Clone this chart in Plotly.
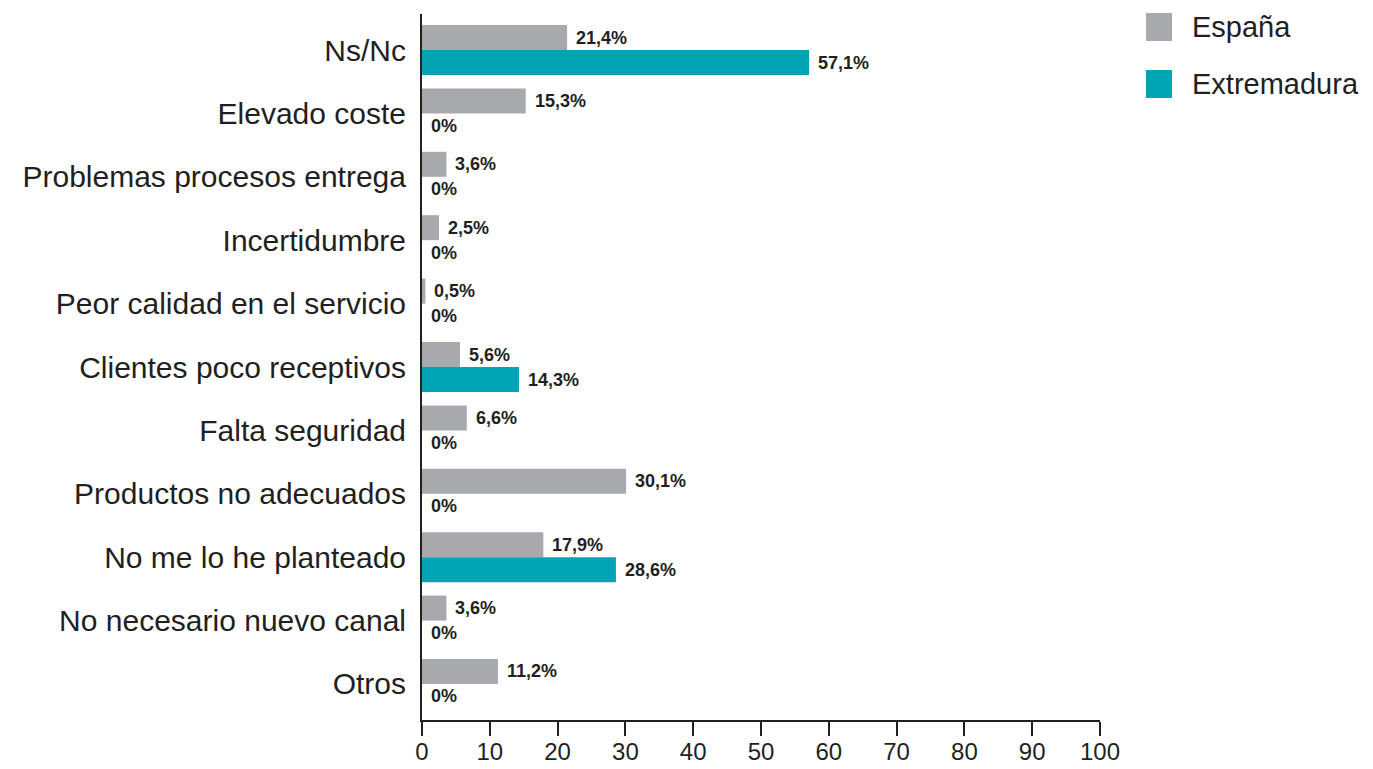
import plotly.graph_objects as go

# Motivos para no usar el canal / comparativa España vs Extremadura (%)
categorias = [
    "Ns/Nc",
    "Elevado coste",
    "Problemas procesos entrega",
    "Incertidumbre",
    "Peor calidad en el servicio",
    "Clientes poco receptivos",
    "Falta seguridad",
    "Productos no adecuados",
    "No me lo he planteado",
    "No necesario nuevo canal",
    "Otros",
]
espana = [21.4, 15.3, 3.6, 2.5, 0.5, 5.6, 6.6, 30.1, 17.9, 3.6, 11.2]
extremadura = [57.1, 0, 0, 0, 0, 14.3, 0, 0, 28.6, 0, 0]
series_nombres = ["España", "Extremadura"]
x_ticks = [0, 10, 20, 30, 40, 50, 60, 70, 80, 90, 100]

GRIS = "#a7a9ac"
TURQUESA = "#00a4b4"
TINTA = "#231f20"
FUENTE = "Liberation Sans"

W, H = 1373, 769
M_L, M_R, M_T, M_B = 422, 273, 14, 49


def etiqueta(v):
    if v == 0:
        return "0%"
    return f"{v:.1f}".replace(".", ",") + "%"


fig = go.Figure()
for nombre, valores, color in [
    (series_nombres[0], espana, GRIS),
    (series_nombres[1], extremadura, TURQUESA),
]:
    fig.add_trace(
        go.Bar(
            name=nombre,
            y=categorias,
            x=valores,
            orientation="h",
            marker=dict(color=color, line=dict(width=0)),
            showlegend=False,
        )
    )

# Etiquetas de valor junto a cada barra
anotaciones = []
for valores, desplaz in [(espana, 12.5), (extremadura, -12.5)]:
    for cat, v in zip(categorias, valores):
        anotaciones.append(
            dict(
                x=v,
                y=cat,
                xref="x",
                yref="y",
                text=etiqueta(v),
                showarrow=False,
                xanchor="left",
                yanchor="middle",
                xshift=7,
                yshift=desplaz,
                font=dict(family=FUENTE, size=18, color=TINTA, weight="bold"),
            )
        )

# Leyenda dibujada a mano (cuadros grandes)
ancho_plot = W - M_L - M_R
alto_plot = H - M_T - M_B


def px_x(px):
    return (px - M_L) / ancho_plot


def px_y(py):
    return 1 - (py - M_T) / alto_plot


formas = []
for i, (nombre, color) in enumerate(zip(series_nombres, [GRIS, TURQUESA])):
    top = 13 + i * 57
    formas.append(
        dict(
            type="rect",
            xref="paper",
            yref="paper",
            x0=px_x(1146),
            x1=px_x(1172),
            y0=px_y(top + 28),
            y1=px_y(top),
            fillcolor=color,
            line=dict(width=0),
        )
    )
    anotaciones.append(
        dict(
            x=px_x(1190),
            y=px_y(top + 14),
            xref="paper",
            yref="paper",
            text=nombre,
            showarrow=False,
            xanchor="left",
            yanchor="middle",
            font=dict(family=FUENTE, size=29, color=TINTA),
        )
    )

fig.update_layout(
    width=W,
    height=H,
    margin=dict(l=M_L, r=M_R, t=M_T, b=M_B, pad=0),
    paper_bgcolor="white",
    plot_bgcolor="white",
    barmode="group",
    bargap=0.211,
    bargroupgap=0,
    annotations=anotaciones,
    shapes=formas,
    font=dict(family=FUENTE, color=TINTA),
)

fig.update_xaxes(
    automargin=False,
    range=[0, 100],
    tickvals=x_ticks,
    ticktext=[str(t) for t in x_ticks],
    showgrid=False,
    zeroline=False,
    showline=True,
    linecolor=TINTA,
    linewidth=1.5,
    ticks="outside",
    ticklen=14,
    tickwidth=1.5,
    tickcolor=TINTA,
    ticklabelstandoff=-5,
    tickfont=dict(family=FUENTE, size=24, color=TINTA),
)

fig.update_yaxes(
    automargin=False,
    type="category",
    categoryorder="array",
    categoryarray=categorias,
    range=[10.568, -0.568],
    showgrid=False,
    zeroline=False,
    showline=True,
    linecolor=TINTA,
    linewidth=2,
    ticks="",
    ticklabelstandoff=8,
    tickfont=dict(family=FUENTE, size=30, color=TINTA),
)

fig.write_html("out.html")
